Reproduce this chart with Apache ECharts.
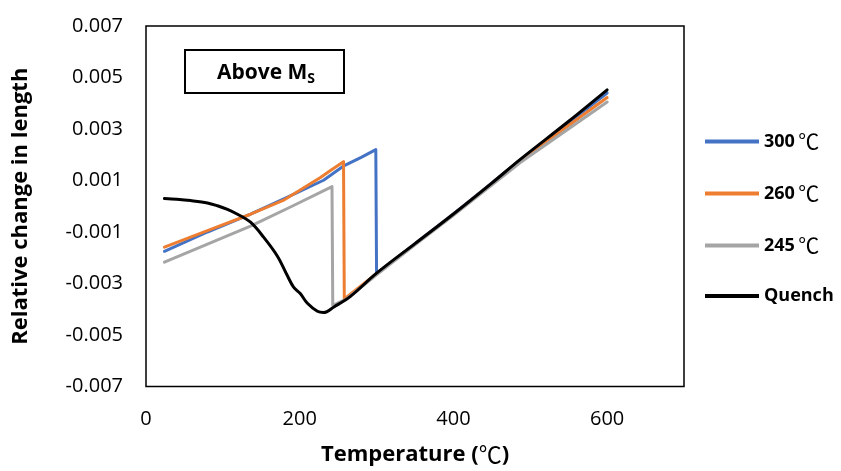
<!DOCTYPE html>
<html>
<head>
<meta charset="utf-8">
<script src="https://cdn.jsdelivr.net/npm/echarts@6/dist/echarts.min.js"></script>
<style>html,body{margin:0;padding:0;background:#fff;}#c{width:841px;height:471px;}</style>
</head>
<body>
<div id="c"></div>
<script>
// Legend / series names
const seriesNames = ['300 ℃', '260 ℃', '245 ℃', 'Quench'];
const xTicks = [0, 200, 400, 600];
const yTicks = [-0.007, -0.005, -0.003, -0.001, 0.001, 0.003, 0.005, 0.007];

// [temperature, relative change in length]
const data300 = [
  [24, -0.00175], [80, -0.00100], [136, -0.00031], [180, 0.00030], [231, 0.00101],
  [258, 0.00158], [280, 0.00190], [299, 0.00220], [300, -0.00262],
  [350, -0.00145], [400, -0.00030], [487, 0.00180], [600, 0.00440]
];
const data260 = [
  [24, -0.00159], [80, -0.00095], [136, -0.00031], [180, 0.00025], [227, 0.00112],
  [240, 0.00139], [257, 0.00173], [258, -0.00360],
  [300, -0.00262], [350, -0.00147], [400, -0.00032], [487, 0.00178], [600, 0.00422]
];
const data245 = [
  [24, -0.00217], [80, -0.00147], [136, -0.00077], [190, 0.00000], [242, 0.00076],
  [243, -0.00385], [260, -0.00362], [300, -0.00266], [350, -0.00150], [400, -0.00035],
  [487, 0.00170], [600, 0.00405]
];
const dataQuench = [
  [24, 0.00030], [40, 0.00027], [58, 0.00022], [80, 0.00013], [93, 0.00002],
  [106, -0.00012], [119, -0.00031], [136, -0.00062], [153, -0.00120], [171, -0.00194],
  [184, -0.00270], [192, -0.00314], [201, -0.00340], [210, -0.00377], [223, -0.00408],
  [231, -0.00413], [245, -0.00390], [266, -0.00350], [300, -0.00260], [350, -0.00145],
  [400, -0.00030], [450, 0.00090], [487, 0.00182], [550, 0.00330], [600, 0.00452]
];

const colors = ['#4472C4', '#ED7D31', '#A5A5A5', '#000000'];
const seriesData = [data300, data260, data245, dataQuench];

const FONT = 'Open Sans';
const CJK = 'Noto Sans CJK SC';
const chart = echarts.init(document.getElementById('c'), null, {renderer: 'canvas'});
chart.setOption({
  animation: false,
  backgroundColor: '#ffffff',
  grid: {left: 146, right: 157, top: 26, bottom: 71, show: true, borderColor: '#000', borderWidth: 1.5, backgroundColor: 'transparent'},
  xAxis: {
    type: 'value', min: 0, max: 700, interval: 200,
    name: '{t|Temperature (}{c|℃}{t|)}', nameLocation: 'middle', nameGap: 55,
    nameTextStyle: {
      rich: {
        t: {fontFamily: FONT, fontWeight: 'bold', fontSize: 22, color: '#000', lineHeight: 26},
        c: {fontFamily: CJK, fontSize: 23, color: '#000', lineHeight: 26}
      }
    },
    axisLine: {show: false}, axisTick: {show: false}, splitLine: {show: false},
    axisLabel: {
      margin: 23, fontFamily: FONT, fontSize: 20, color: '#000',
      formatter: v => xTicks.indexOf(v) >= 0 ? String(v) : ''
    }
  },
  yAxis: {
    type: 'value', min: -0.007, max: 0.007, interval: 0.002,
    name: 'Relative change in length', nameLocation: 'middle', nameGap: 114,
    nameTextStyle: {fontFamily: FONT, fontWeight: 'bold', fontSize: 22, color: '#000'},
    axisLine: {show: false}, axisTick: {show: false}, splitLine: {show: false},
    axisLabel: {
      margin: 23, fontFamily: FONT, fontSize: 20, color: '#000',
      formatter: v => {
        const r = Math.round(v * 1000) / 1000;
        return yTicks.some(t => Math.abs(t - r) < 1e-9) ? r.toFixed(3) : '';
      }
    }
  },
  legend: {
    orient: 'vertical', left: 700, top: 126, itemWidth: 54, itemHeight: 4, itemGap: 31,
    icon: 'rect',
    data: seriesNames,
    formatter: name => {
      const p = name.split(' ');
      return p.length > 1 ? '{b|' + p[0] + '} {c|' + p[1] + '}' : '{b|' + name + '}';
    },
    textStyle: {
      color: '#000',
      rich: {
        b: {fontFamily: FONT, fontWeight: 'bold', fontSize: 18, color: '#000', lineHeight: 21},
        c: {fontFamily: CJK, fontSize: 21, color: '#000', lineHeight: 21}
      }
    }
  },
  graphic: [
    {type: 'rect', shape: {x: 185, y: 50, width: 159, height: 43}, style: {fill: '#fff', stroke: '#000', lineWidth: 2}, z: 10},
    {type: 'text', z: 11,
      style: {x: 266, y: 73, text: '{a|Above M}{s|S}', align: 'center', verticalAlign: 'middle',
        rich: {
          a: {fontFamily: FONT, fontWeight: 'bold', fontSize: 21, lineHeight: 26, color: '#000'},
          s: {fontFamily: FONT, fontWeight: 'bold', fontSize: 14, lineHeight: 14, verticalAlign: 'bottom', color: '#000'}
        }}}
  ],
  series: seriesData.map((d, i) => ({
    name: seriesNames[i], type: 'line', data: d, showSymbol: false, symbol: 'none',
    smooth: i === 3 ? 0.35 : false,
    lineStyle: {color: colors[i], width: 3, cap: 'round', join: 'round'},
    itemStyle: {color: colors[i]},
    z: 2 + i
  }))
});
</script>
</body>
</html>
